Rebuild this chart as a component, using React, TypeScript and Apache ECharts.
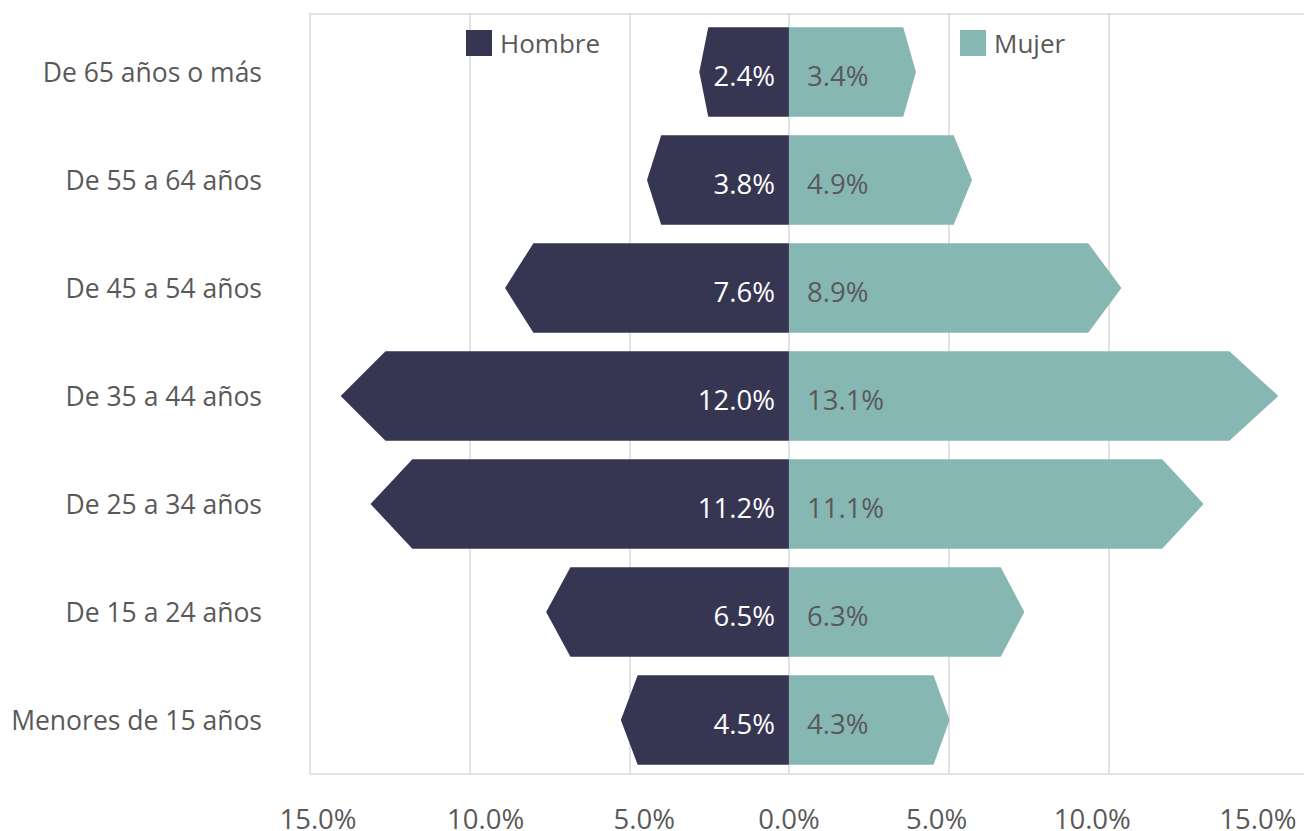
import React, { useEffect, useRef } from "react";
import * as echarts from "echarts";

const CATEGORIES = [
  "De 65 años o más",
  "De 55 a 64 años",
  "De 45 a 54 años",
  "De 35 a 44 años",
  "De 25 a 34 años",
  "De 15 a 24 años",
  "Menores de 15 años",
];
const HOMBRE = [2.4, 3.8, 7.6, 12.0, 11.2, 6.5, 4.5];
const MUJER = [3.4, 4.9, 8.9, 13.1, 11.1, 6.3, 4.3];
const X_TICK_LABELS = ["15.0%", "10.0%", "5.0%", "0.0%", "5.0%", "10.0%", "15.0%"];
const SERIES_NAMES = ["Hombre", "Mujer"];

// style constants
const FONT = "'Open Sans', 'Noto Sans', sans-serif";
const FS_CAT = 26.5;
const FS_NUM = 27.5;
const FS_LEG = 26;
const GREY = "#595959";
const GRID = "#d9d9d9";
const C_H = "#363552";
const C_M = "#86b7b3";
const X_MIN = -15;
const X_MAX = 16.13;
const SHAPE_STRETCH = 1.17;
const TIP_FRACTION = 0.1;
const LABEL_SHIFT = [8, 16, 15, 0, -12, -16, -10];

function makeRender(sign: number, color: string, textColor: string, gap: number) {
  return (params: any, api: any) => {
    const v = api.value(0);
    const cat = api.value(1);
    const base = api.coord([0, cat]);
    const end = api.coord([sign * v * SHAPE_STRETCH, cat]);
    const h = api.size([0, 1])[1] * 0.83;
    const x0 = base[0];
    const yc = base[1];
    const xt = end[0];
    const xc = x0 + (xt - x0) * (1 - TIP_FRACTION);
    return {
      type: "group",
      children: [
        {
          type: "polygon",
          shape: {
            points: [
              [x0, yc - h / 2],
              [xc, yc - h / 2],
              [xt, yc],
              [xc, yc + h / 2],
              [x0, yc + h / 2],
            ],
          },
          style: { fill: color },
        },
        {
          type: "text",
          x: x0 + sign * gap,
          y: yc + 3,
          style: {
            text: v.toFixed(1) + "%",
            fill: textColor,
            font: `${FS_NUM}px ${FONT}`,
            align: sign < 0 ? "right" : "left",
            verticalAlign: "middle",
          },
        },
      ],
    };
  };
}

export default function App() {
  const ref = useRef<HTMLDivElement>(null);
  useEffect(() => {
    if (!ref.current) return;
    const chart = echarts.init(ref.current, undefined, { renderer: "svg" });
    const rich: any = {};
    LABEL_SHIFT.forEach((s, i) => {
      rich["s" + i] = {
        fontSize: FS_NUM,
        fontFamily: FONT,
        color: GREY,
        lineHeight: 20,
        padding: s >= 0 ? [0, 0, 0, 2 * s] : [0, -2 * s, 0, 0],
      };
    });
    const splitColors = [GRID, GRID, GRID, GRID, GRID, GRID, "rgba(0,0,0,0)", "rgba(0,0,0,0)"];
    const legendText = { fontSize: FS_LEG, color: GREY, fontFamily: FONT, padding: [0, 0, 0, 3] };
    chart.setOption({
      animation: false,
      textStyle: { fontFamily: FONT },
      grid: [
        { left: 310, right: 0, top: 13.5, bottom: 57, outerBoundsMode: "none", containLabel: false },
        { left: 310, right: 0, top: 18, bottom: 57, outerBoundsMode: "none", containLabel: false },
      ],
      legend: [
        {
          data: [SERIES_NAMES[0]],
          left: 466,
          top: 30,
          padding: 0,
          icon: "rect",
          itemWidth: 26,
          itemHeight: 26,
          textStyle: legendText,
        },
        {
          data: [SERIES_NAMES[1]],
          left: 960,
          top: 30,
          padding: 0,
          icon: "rect",
          itemWidth: 26,
          itemHeight: 26,
          textStyle: legendText,
        },
      ],
      xAxis: [
        {
          type: "value",
          gridIndex: 0,
          min: X_MIN,
          max: X_MAX,
          interval: 5,
          axisLine: { show: true, lineStyle: { color: GRID, width: 1.5 } },
          axisTick: { show: false },
          splitLine: { show: true, lineStyle: { color: splitColors, width: 1.5 } },
          axisLabel: {
            margin: 34,
            lineHeight: 20,
            formatter: (val: number, idx: number) =>
              idx < X_TICK_LABELS.length ? `{s${idx}|${X_TICK_LABELS[idx]}}` : "",
            rich,
          },
        },
        {
          type: "value",
          gridIndex: 1,
          min: X_MIN,
          max: X_MAX,
          interval: 5,
          show: false,
        },
        {
          type: "value",
          gridIndex: 0,
          position: "top",
          min: X_MIN,
          max: X_MAX,
          interval: 5,
          axisLine: { show: true, lineStyle: { color: GRID, width: 1.5 } },
          axisTick: { show: false },
          axisLabel: { show: false },
          splitLine: { show: false },
        },
      ],
      yAxis: [
        { type: "value", gridIndex: 0, min: 0, max: 1, show: false },
        {
          type: "category",
          gridIndex: 1,
          inverse: true,
          data: CATEGORIES,
          axisLine: { show: false },
          axisTick: { show: false },
          splitLine: { show: false },
          axisLabel: { margin: 48, fontSize: FS_CAT, color: GREY, fontFamily: FONT },
        },
      ],
      series: [
        {
          name: SERIES_NAMES[0],
          type: "custom",
          xAxisIndex: 1,
          yAxisIndex: 1,
          itemStyle: { color: C_H },
          renderItem: makeRender(-1, C_H, "#ffffff", 14),
          data: HOMBRE.map((v, i) => [v, i]),
          encode: { x: 0, y: 1 },
        },
        {
          name: SERIES_NAMES[1],
          type: "custom",
          xAxisIndex: 1,
          yAxisIndex: 1,
          itemStyle: { color: C_M },
          renderItem: makeRender(1, C_M, GREY, 18),
          data: MUJER.map((v, i) => [v, i]),
          encode: { x: 0, y: 1 },
        },
      ],
    });
    return () => chart.dispose();
  }, []);
  return (
    <div
      ref={ref}
      style={{ position: "absolute", left: 0, top: 0, width: 1304, height: 831 }}
    />
  );
}
